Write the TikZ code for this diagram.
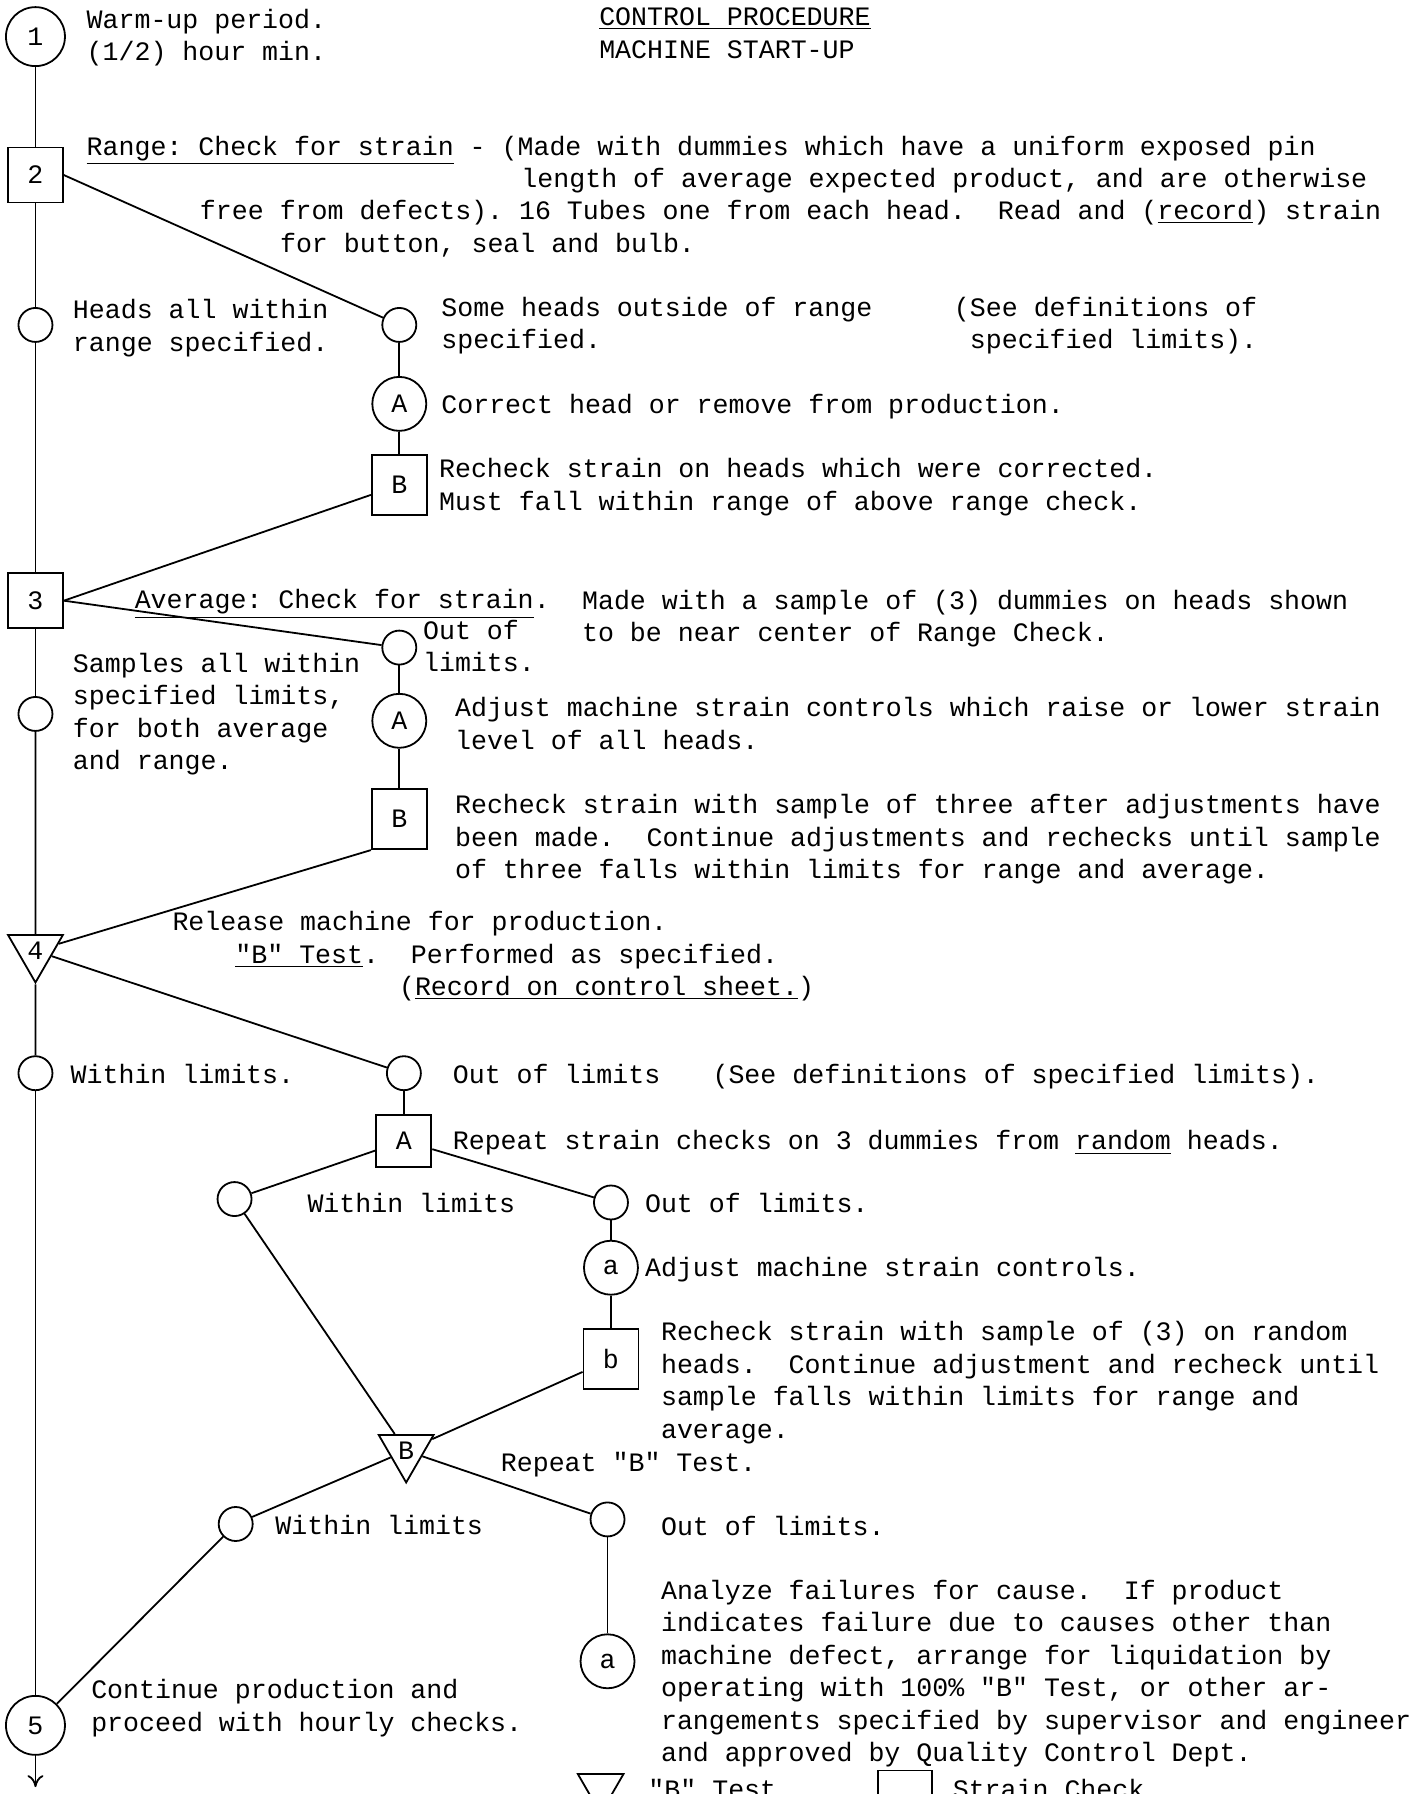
\documentclass[tikz,border=0pt]{standalone}
\usepackage{fontspec}
\setmainfont{Liberation Mono}[Ligatures=TeXOff]
\usetikzlibrary{shapes.geometric,arrows.meta}

\begin{document}
\frenchspacing
\begin{tikzpicture}[
	x = 0.57217pt, y = -0.57217pt, % one unit per pixel of the sheet
	line width = 0.9pt,
	> = {To[length=6pt, width=8pt]},
	every node/.style={font=\fontsize{13.3}{16.25}\selectfont},
	numc/.style={circle, draw=black, inner sep=0pt, minimum size=29.5pt},
	letc/.style={circle, draw=black, inner sep=0pt, minimum size=27pt},
	dotc/.style={circle, draw=black, inner sep=0pt, minimum size=17pt},
	numbox/.style={rectangle, draw=black, inner sep=0pt, minimum size=27.5pt},
	letbox/.style={rectangle, draw=black, inner sep=0pt, minimum width=27.5pt, minimum height=30pt},
	tri/.style={regular polygon, regular polygon sides=3, shape border rotate=180, draw=black, inner sep=0pt, minimum size=31.7pt},
	txt/.style={anchor=base west, inner sep=0pt, align=left, yshift=-1.7pt}, % base = last line
	]
	\useasboundingbox (0,0) rectangle (1247,1568);
	\clip (0,0) rectangle (1247,1568);

	% Main line
	\node[numc] (n1) at (31,32) {1};
	\node[numbox] (n2) at (31,153) {2};
	\node[dotc] (h1) at (31,284) {};
	\node[numbox] (n3) at (31,525) {3};
	\node[dotc] (h2) at (31,624) {};
	\node[tri] (n4) at (31,831) {4};
	\node[dotc] (w3) at (31,938) {};
	\node[numc] (n5) at (31,1508) {5};
	\coordinate (end) at (31,1562);

	% Range check
	\node[dotc] (o1) at (349,284) {};
	\node[letc] (a1) at (349,353) {A};
	\node[letbox] (b1) at (349,424) {B};

	% Average check
	\node[dotc] (o2) at (349,566) {};
	\node[letc] (a2) at (349,630) {A};
	\node[letbox] (b2) at (349,716) {B};

	% "B" test out of limits
	\node[dotc] (o3) at (353,938) {};
	\node[letbox, minimum height=26pt] (a3) at (353,997) {A};
	\node[dotc] (w4) at (205,1048) {};
	\node[dotc] (o4) at (534,1051) {};
	\node[letc] (a4) at (534,1108) {a};
	\node[letbox] (b4) at (534,1188) {b};
	\node[tri] (tb) at (355,1268) {B};
	\node[dotc] (w5) at (206,1332) {};
	\node[dotc] (o5) at (531,1328) {};
	\node[letc] (a5) at (531,1452) {a};

	% Paths connecting nodes
	\path (n1) edge (n2)
	      (n2) edge (h1)
	      (h1) edge (n3)
	      (n3) edge (h2)
	      (h2) edge (n4)
	      (n4) edge (w3)
	      (w3) edge (n5);
	\draw[->] (n5) -- (end);
	\path (n2.east) edge (o1)
	      (o1) edge (a1)
	      (a1) edge (b1)
	      (b1) edge (n3.east);
	\path (n3.east) edge (o2)
	      (o2) edge (a2)
	      (a2) edge (b2)
	      (b2.south west) edge (n4);
	\path (n4) edge (o3)
	      (o3) edge (a3)
	      (a3) edge (w4)
	      (a3) edge (o4)
	      (o4) edge (a4)
	      (a4) edge (b4)
	      (w4) edge (tb)
	      (b4) edge (tb)
	      (tb) edge (w5)
	      (tb) edge (o5)
	      (o5) edge (a5)
	      (w5) edge (n5);

	% Texts (placed at the baseline of their last line)
	\node[txt] (warm) at (75,50) {Warm-up period.\\(1/2) hour min.};
	\node[txt] (title) at (523,48) {\underline{CONTROL PROCEDURE}\\MACHINE START-UP};
	\node[txt] (range) at (75,133) {\underline{Range: Check for strain} - (Made with dummies which have a uniform exposed pin};
	\node[txt] (range2) at (455,161) {length of average expected product, and are otherwise};
	\node[txt] (range3) at (174,189) {free from defects). 16 Tubes one from each head.~ Read and (\underline{record}) strain};
	\node[txt] (range4) at (244,218) {for button, seal and bulb.};
	\node[txt] (allin) at (63,304) {Heads all within\\range specified.};
	\node[txt] (outside) at (385,302) {Some heads outside of range\\specified.};
	\node[txt] (seedef) at (833,302) {(See definitions of\\~specified limits).};
	\node[txt] (correct) at (385,358) {Correct head or remove from production.};
	\node[txt] (recheck) at (383,443) {Recheck strain on heads which were corrected.\\Must fall within range of above range check.};
	\node[txt] (average) at (117,529) {\underline{Average: Check for strain}.};
	\node[txt] (sample) at (508,558) {Made with a sample of (3) dummies on heads shown\\to be near center of Range Check.};
	\node[txt] (outof) at (369,584) {Out of\\limits.};
	\node[txt] (allspec) at (63,670) {Samples all within\\specified limits,\\for both average\\and range.};
	\node[txt] (adjust) at (397,652) {Adjust machine strain controls which raise or lower strain\\level of all heads.};
	\node[txt] (recheckb) at (397,765) {Recheck strain with sample of three after adjustments have\\been made.~ Continue adjustments and rechecks until sample\\of three falls within limits for range and average.};
	\node[txt] (release) at (150,810) {Release machine for production.};
	\node[txt] (btest) at (205,839) {\underline{"B" Test}.~ Performed as specified.};
	\node[txt] (record) at (348,867) {(\underline{Record on control sheet.})};
	\node[txt] (within) at (61,944) {Within limits.};
	\node[txt] (outlim) at (395,944) {Out of limits};
	\node[txt] (seedef2) at (622,944) {(See definitions of specified limits).};
	\node[txt] (repeat) at (395,1002) {Repeat strain checks on 3 dummies from \underline{random} heads.};
	\node[txt] (within2) at (268,1057) {Within limits};
	\node[txt] (outlim2) at (563,1057) {Out of limits.};
	\node[txt] (adjust2) at (563,1113) {Adjust machine strain controls.};
	\node[txt] (recheckc) at (577,1254) {Recheck strain with sample of (3) on random\\heads.~ Continue adjustment and recheck until\\sample falls within limits for range and\\average.};
	\node[txt] (repeatb) at (437,1283) {Repeat "B" Test.};
	\node[txt] (within3) at (240,1338) {Within limits};
	\node[txt] (outlim3) at (577,1339) {Out of limits.};
	\node[txt] (analyze) at (577,1537) {Analyze failures for cause.~ If product\\indicates failure due to causes other than\\machine defect, arrange for liquidation by\\operating with 100\% "B" Test, or other ar-\\rangements specified by supervisor and engineer\\and approved by Quality Control Dept.};
	\node[txt] (continue) at (79,1510) {Continue production and\\proceed with hourly checks.};

	% Legend
	\node[tri, minimum size=26.4pt] (legtri) at (525,1562) {};
	\node[txt] (legbt) at (566,1569) {"B" Test};
	\node[numbox, minimum size=27pt] (legbox) at (791,1571) {};
	\node[txt] (legsc) at (832,1569) {Strain Check};
\end{tikzpicture}
\end{document}
